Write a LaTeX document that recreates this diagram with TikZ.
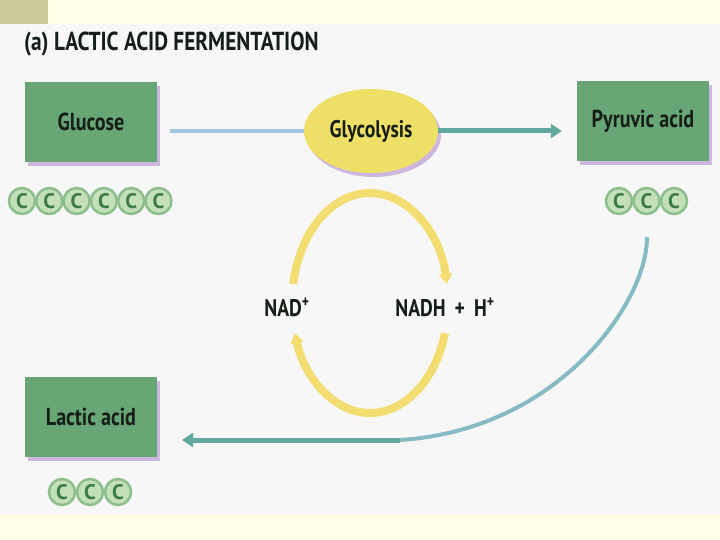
\documentclass[tikz,border=0pt]{standalone}
\usepackage{fontspec}
\setmainfont{PT Sans}
\newfontfamily\narrowsans[FakeStretch=0.82]{PT Sans}
\usetikzlibrary{positioning, arrows.meta, shapes, shadows}
\definecolor{pageyellow}{RGB}{255, 253, 228}
\definecolor{cornertan}{RGB}{204, 200, 152}
\definecolor{panelwhite}{RGB}{246, 247, 246}
\definecolor{inkdark}{RGB}{22, 30, 24}
\definecolor{boxgreen}{RGB}{104, 166, 118}
\definecolor{shadowviolet}{RGB}{165, 120, 200}
\definecolor{glycyellow}{RGB}{238, 224, 102}
\definecolor{cycleyellow}{RGB}{243, 220, 112}
\definecolor{carbonfill}{RGB}{196, 224, 186}
\definecolor{carbonring}{RGB}{140, 190, 140}
\definecolor{carbonink}{RGB}{62, 122, 72}
\definecolor{feedblue}{RGB}{160, 200, 222}
\definecolor{flowteal}{RGB}{98, 168, 158}

\begin{document}
\begin{tikzpicture}[x=1pt, y=-1pt,
    compound/.style={rectangle, fill=boxgreen, minimum width=132pt, minimum height=80pt,
        text=inkdark, font=\narrowsans\bfseries\fontsize{24.5}{26}\selectfont,
        drop shadow={shadow xshift=3pt, shadow yshift=-4pt, fill=shadowviolet, opacity=0.5}},
    carbon/.style={circle, fill=carbonfill, draw=carbonring, line width=2.5pt,
        minimum size=26pt, inner sep=0pt, text=carbonink, font=\bfseries\fontsize{21}{21}\selectfont},
    cofactor/.style={text=inkdark, font=\narrowsans\bfseries\fontsize{24}{26}\selectfont},
    cyclearrow/.style={draw=cycleyellow, line width=8pt, -{Triangle[width=13pt, length=10pt]}}]
    \useasboundingbox (0,0) rectangle (720,540);

    % Page background
    \fill[pageyellow] (0,0) rectangle (720,540);
    \fill[panelwhite] (0,24) rectangle (720,515);
    \fill[cornertan] (0,0) rectangle (48,24);

    % Title
    \node[anchor=west, inner sep=0pt, text=inkdark, font=\narrowsans\bfseries\fontsize{26}{28}\selectfont]
        (title) at (24,44) {(a) LACTIC ACID FERMENTATION};

    % Compounds
    \node[compound] (glucose) at (91,122) {Glucose};
    \node[compound] (pyruvic) at (643,121) {Pyruvic acid};
    \node[compound] (lactic) at (91,417) {Lactic acid};

    % Carbon skeletons
    \foreach \i in {1,...,6} {
        \node[carbon] (gc\i) at ({22+27.3*(\i-1)},201) {C};
    }
    \foreach \i in {1,2,3} {
        \node[carbon] (pc\i) at ({619+27.5*(\i-1)},201) {C};
        \node[carbon] (lc\i) at ({62+28*(\i-1)},492) {C};
    }

    % Glycolysis
    \node[ellipse, fill=glycyellow, minimum width=134pt, minimum height=84pt, cofactor,
        drop shadow={shadow xshift=3pt, shadow yshift=-4pt, fill=shadowviolet, opacity=0.5}]
        (glyc) at (371,131) {Glycolysis};

    \draw[feedblue, line width=4pt, shorten <=13pt] (glucose.east |- glyc.west) -- (glyc.west);
    \draw[flowteal, line width=5pt, shorten >=15pt, -{Triangle[width=14pt, length=11pt]}]
        (glyc.east) -- (glyc.east -| pyruvic.west);

    % NAD+ / NADH cycle
    \node[cofactor] (nad) at (287,307) {NAD\textsuperscript{+}};
    \node[cofactor] (nadh) at (445,307) {NADH\, +\, H\textsuperscript{+}};
    \coordinate (cyc) at (370,303);
    \draw[cyclearrow] (cyc) ++(190:78 and 110) arc[start angle=190, end angle=350, x radius=78, y radius=110];
    \draw[cyclearrow] (cyc) ++(16:78 and 110) arc[start angle=16, end angle=164, x radius=78, y radius=110];

    % Pyruvic acid back to lactic acid
    \coordinate (bend) at (400,440);
    \coordinate (lacin) at (182,440);
    \draw[feedblue!60!flowteal, line width=4pt, shorten <=22pt]
        (pc2.south) .. controls (648,300) and (560,430) .. (bend);
    \draw[flowteal, line width=5pt, -{Triangle[width=14pt, length=11pt]}] (bend) -- (lacin);
\end{tikzpicture}
\end{document}
